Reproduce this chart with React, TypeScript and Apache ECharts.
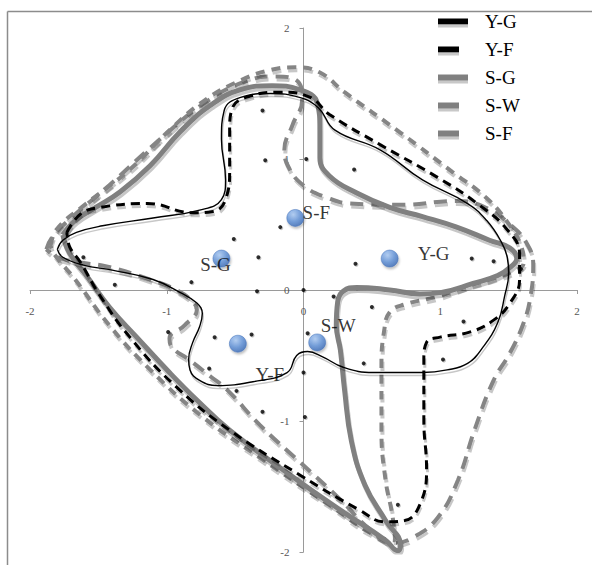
import React, { useEffect, useRef } from "react";
import * as echarts from "echarts";

// ---- Data (in chart coordinates) ----
const xTicks = [-2, -1, 0, 1, 2];
const yTicks = [-2, -1, 0, 1, 2];

const seriesNames = ["Y-G", "Y-F", "S-G", "S-W", "S-F"];

const curveYG = [
  [-1.80, 0.31], [-1.76, 0.38], [-1.66, 0.44], [-1.47, 0.49], [-1.10, 0.55], [-0.76, 0.61],
  [-0.60, 0.69], [-0.57, 0.84], [-0.60, 1.15], [-0.58, 1.37], [-0.46, 1.47], [-0.24, 1.50],
  [-0.03, 1.47], [0.11, 1.39], [0.23, 1.22], [0.56, 1.07], [0.87, 0.84], [1.20, 0.66],
  [1.34, 0.53], [1.44, 0.38], [1.49, 0.25], [1.50, 0.13], [1.47, -0.05], [1.42, -0.25],
  [1.31, -0.44], [1.20, -0.56], [1.05, -0.61], [0.87, -0.63], [0.51, -0.63], [0.29, -0.59],
  [0.14, -0.51], [0.03, -0.47], [-0.05, -0.50], [-0.12, -0.63], [-0.37, -0.70], [-0.63, -0.73],
  [-0.76, -0.69], [-0.83, -0.61], [-0.84, -0.53], [-0.81, -0.40], [-0.76, -0.28], [-0.74, -0.18],
  [-0.78, -0.10], [-0.90, -0.02], [-1.10, 0.08], [-1.39, 0.15], [-1.61, 0.19], [-1.76, 0.25],
  [-1.80, 0.31]
];

const curveYF = [
  [-1.73, 0.44], [-1.63, 0.58], [-1.49, 0.63], [-1.14, 0.66], [-0.81, 0.59], [-0.66, 0.60],
  [-0.57, 0.69], [-0.54, 0.92], [-0.54, 1.22], [-0.52, 1.39], [-0.39, 1.48], [-0.17, 1.51],
  [0.05, 1.47], [0.19, 1.34], [0.56, 1.11], [0.98, 0.86], [1.27, 0.66], [1.49, 0.46],
  [1.58, 0.27], [1.58, 0.08], [1.51, -0.10], [1.39, -0.23], [1.22, -0.32], [1.00, -0.36],
  [0.90, -0.40], [0.88, -0.53], [0.88, -0.99], [0.90, -1.37], [0.85, -1.64], [0.74, -1.76],
  [0.60, -1.77], [0.41, -1.68], [-0.03, -1.41], [-0.54, -1.07], [-0.93, -0.74], [-1.27, -0.36],
  [-1.49, -0.04], [-1.63, 0.21], [-1.71, 0.33], [-1.73, 0.44]
];

const curveSG = [
  [-1.76, 0.42], [-1.67, 0.53], [-1.52, 0.63], [-1.34, 0.75], [-1.12, 0.95], [-0.90, 1.21],
  [-0.68, 1.41], [-0.46, 1.53], [-0.23, 1.56], [-0.03, 1.53], [0.10, 1.43], [0.12, 1.22],
  [0.12, 1.01], [0.19, 0.87], [0.39, 0.74], [0.63, 0.63], [0.87, 0.56], [1.12, 0.48],
  [1.36, 0.38], [1.51, 0.32], [1.56, 0.24], [1.52, 0.18], [1.42, 0.11], [1.24, 0.05],
  [1.00, -0.02], [0.85, -0.03], [0.63, 0.00], [0.39, 0.02], [0.29, -0.01], [0.25, -0.09],
  [0.24, -0.27], [0.27, -0.46], [0.30, -0.76], [0.35, -1.15], [0.45, -1.49], [0.60, -1.76],
  [0.71, -1.95], [0.69, -1.99], [0.60, -1.91], [0.27, -1.68], [-0.10, -1.41], [-0.54, -1.07],
  [-0.78, -0.84], [-0.98, -0.63], [-1.22, -0.36], [-1.42, -0.13], [-1.58, 0.10], [-1.71, 0.28],
  [-1.76, 0.42]
];

const curveSW = [
  [-1.85, 0.34], [-1.80, 0.47], [-1.60, 0.65], [-1.27, 0.92], [-0.98, 1.22], [-0.72, 1.45],
  [-0.46, 1.60], [-0.24, 1.68], [-0.06, 1.70], [0.12, 1.66], [0.30, 1.51], [0.71, 1.20],
  [1.09, 0.90], [1.33, 0.71], [1.49, 0.52], [1.59, 0.34], [1.61, 0.21], [1.55, 0.15],
  [1.36, 0.08], [1.17, 0.02], [0.98, -0.05], [0.74, -0.11], [0.63, -0.17], [0.59, -0.31],
  [0.57, -0.57], [0.57, -1.07], [0.60, -1.45], [0.65, -1.72], [0.67, -1.91], [0.56, -1.89],
  [0.19, -1.64], [-0.32, -1.28], [-0.76, -0.95], [-1.12, -0.61], [-1.42, -0.27], [-1.67, 0.08],
  [-1.82, 0.27], [-1.85, 0.34]
];

const curveSF = [
  [-1.88, 0.31], [-1.84, 0.40], [-1.72, 0.53], [-1.42, 0.80], [-1.05, 1.15], [-0.72, 1.43],
  [-0.43, 1.59], [-0.21, 1.63], [-0.04, 1.59], [-0.01, 1.45], [-0.08, 1.26], [-0.14, 1.07],
  [-0.10, 0.92], [0.01, 0.79], [0.16, 0.71], [0.34, 0.66], [0.71, 0.65], [1.12, 0.68],
  [1.33, 0.63], [1.51, 0.50], [1.63, 0.36], [1.68, 0.19], [1.66, -0.05], [1.61, -0.25],
  [1.51, -0.48], [1.39, -0.69], [1.25, -1.07], [1.13, -1.45], [0.98, -1.74], [0.80, -1.89],
  [0.67, -1.93], [0.49, -1.83], [0.27, -1.60], [-0.03, -1.31], [-0.32, -1.03], [-0.56, -0.76],
  [-0.68, -0.66], [-0.84, -0.53], [-0.96, -0.44], [-0.98, -0.37], [-0.87, -0.27], [-0.78, -0.15],
  [-0.82, -0.08], [-0.93, 0.00], [-1.12, 0.08], [-1.44, 0.18], [-1.63, 0.21], [-1.80, 0.25],
  [-1.88, 0.31]
];

const dotPoints = [
  [-0.30, 1.37], [-0.28, 0.99], [0.02, 1.00], [0.37, 0.92], [-0.17, 0.48], [-0.51, 0.39],
  [-0.33, 0.25], [-0.82, 0.06], [-1.38, 0.04], [-1.61, 0.25], [-0.34, -0.01], [0.00, 0.00],
  [0.38, 0.20], [1.23, 0.24], [1.39, 0.22], [1.59, 0.16], [0.22, -0.05], [0.50, -0.13],
  [1.17, -0.24], [-0.99, -0.32], [-0.65, -0.36], [-0.38, -0.34], [0.03, -0.33], [-0.69, -0.60],
  [0.00, -0.63], [-0.49, -0.77], [0.44, -0.56], [1.02, -0.53], [0.69, -1.64], [-0.30, -0.93],
  [0.01, -0.97]
];

const groupNames = ["S-F", "S-G", "Y-G", "Y-F", "S-W"];
const groupX = [-0.06, -0.60, 0.63, -0.48, 0.10];
const groupY = [0.55, 0.24, 0.24, -0.41, -0.40];
const groupLabelOffset = [[21, -5], [-6, 6], [44, -5], [32, 31], [21, -17]];

const lineColors = ["#000000", "#000000", "#808080", "#858585", "#858585"];
const lineWidths = [1.4, 3, 5, 4, 4];
const lineDash: (number[] | "solid")[] = ["solid", [9, 6], "solid", [9, 7], [13, 8]];

const SERIF = "'Liberation Serif', 'Times New Roman', 'DejaVu Serif', serif";

export default function App() {
  const ref = useRef<HTMLDivElement>(null);
  useEffect(() => {
    if (!ref.current) return;
    const chart = echarts.init(ref.current, null, { renderer: "svg" });
    const curves = [curveYG, curveYF, curveSG, curveSW, curveSF];
    const zOrder = [7, 6, 5, 4, 3];
    const lineSeries = seriesNames.map((name, i) => ({
      name,
      type: "line",
      data: curves[i],
      smooth: 0.45,
      symbol: "none",
      z: zOrder[i],
      lineStyle: {
        color: lineColors[i],
        width: lineWidths[i],
        type: lineDash[i],
        cap: "butt",
        shadowColor: "rgba(0,0,0,0.22)",
        shadowBlur: 1,
        shadowOffsetX: 1,
        shadowOffsetY: 3,
      },
      itemStyle: { color: lineColors[i] },
    }));

    const legendIcons = [
      "path://M0 0h30v6H0z",
      "path://M0 0h21v6H0z M29.9 5.9h0.1v0.1h-0.1z",
      "path://M0 0h30v6H0z",
      "path://M0 0h21v6H0z M29.9 5.9h0.1v0.1h-0.1z",
      "path://M0 0h21v6H0z M29.9 5.9h0.1v0.1h-0.1z",
    ];

    const axisCommon = {
      type: "value",
      interval: 1,
      axisLine: { onZero: false, lineStyle: { color: "#9a9a9a", width: 1 } },
      axisTick: { show: true, length: 4, lineStyle: { color: "#9a9a9a" } },
      splitLine: { show: false },
    };

    chart.setOption({
      animation: false,
      backgroundColor: "#ffffff",
      grid: { left: 30, right: 15, top: 28, bottom: 13, containLabel: false },
      xAxis: {
        ...axisCommon,
        position: "bottom",
        offset: -262,
        min: xTicks[0],
        max: xTicks[xTicks.length - 1],
        axisLabel: { margin: 15, color: "#555", fontFamily: SERIF, fontSize: 11 },
      },
      yAxis: {
        ...axisCommon,
        position: "left",
        offset: -273.5,
        min: yTicks[0],
        max: yTicks[yTicks.length - 1],
        axisLabel: { margin: 14, color: "#555", fontFamily: SERIF, fontSize: 11 },
      },
      legend: {
        orient: "vertical",
        left: 433,
        top: 7,
        itemWidth: 30,
        itemHeight: 6,
        itemGap: 9,
        selectedMode: false,
        textStyle: {
          fontFamily: SERIF,
          fontSize: 19,
          color: "#000",
          padding: [0, 0, 0, 12],
          lineHeight: 19,
        },
        data: seriesNames.map((name, i) => ({
          name,
          icon: legendIcons[i],
          itemStyle: {
            color: i < 2 ? "#000000" : "#808080",
            shadowColor: "#c8c8c8",
            shadowOffsetY: 3,
            shadowBlur: 0,
          },
        })),
      },
      graphic: [
        {
          type: "line",
          shape: { x1: 7.5, y1: 11.5, x2: 7.5, y2: 565 },
          style: { stroke: "#8c8c8c", lineWidth: 1.5 },
          silent: true,
        },
        {
          type: "line",
          shape: { x1: 7.5, y1: 11.5, x2: 592, y2: 11.5 },
          style: { stroke: "#8c8c8c", lineWidth: 1.5 },
          silent: true,
        },
      ],
      series: [
        ...lineSeries.slice().reverse(),
        {
          name: "dots",
          type: "scatter",
          data: dotPoints,
          symbolSize: 4,
          z: 8,
          itemStyle: {
            color: "#000",
            shadowColor: "rgba(0,0,0,0.3)",
            shadowBlur: 1,
            shadowOffsetX: 1,
            shadowOffsetY: 1,
          },
        },
        {
          name: "groups",
          type: "scatter",
          z: 9,
          symbolSize: 17,
          data: groupNames.map((n, i) => ({
            value: [groupX[i], groupY[i]],
            name: n,
            label: {
              show: true,
              formatter: n,
              position: "inside",
              offset: groupLabelOffset[i],
              color: "#000",
              fontFamily: SERIF,
              fontSize: 19,
            },
          })),
          itemStyle: {
            color: {
              type: "radial",
              x: 0.38,
              y: 0.3,
              r: 0.75,
              colorStops: [
                { offset: 0, color: "#a9c9f4" },
                { offset: 0.55, color: "#5d8fd6" },
                { offset: 1, color: "#3767b3" },
              ],
            },
            borderColor: "#3f6db5",
            borderWidth: 0.6,
            shadowColor: "rgba(0,0,0,0.3)",
            shadowBlur: 2,
            shadowOffsetX: 1,
            shadowOffsetY: 2,
          },
        },
      ],
    });
    return () => chart.dispose();
  }, []);
  return (
    <div
      ref={ref}
      style={{ position: "fixed", left: 0, top: 0, width: 592, height: 565 }}
    />
  );
}
